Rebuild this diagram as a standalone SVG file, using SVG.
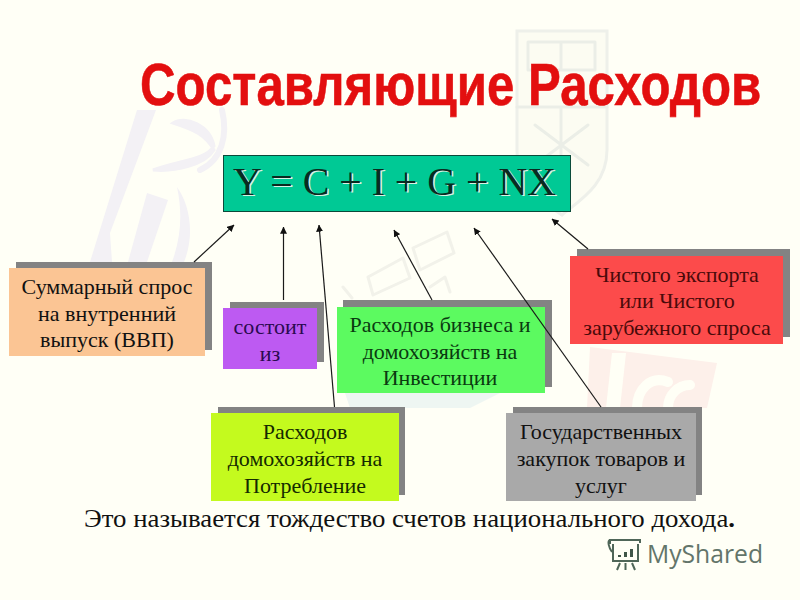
<svg xmlns="http://www.w3.org/2000/svg" width="800" height="600" viewBox="0 0 800 600">
<style>
.shadow{fill:#838383}
.t{font-family:"Liberation Serif","Times New Roman",serif;font-size:22px;fill:#111;text-anchor:middle}
.wm{fill:none;stroke-linejoin:round;stroke-linecap:round}
.conn{stroke:#1a1a1a;stroke-width:1.2;fill:none;marker-end:url(#arrow)}
.eq{font-family:"Liberation Serif",serif;font-size:41px;text-anchor:middle}
</style>
<defs>
<marker id="arrow" viewBox="0 0 10 10" refX="9.5" refY="5" markerWidth="7" markerHeight="7" markerUnits="userSpaceOnUse" orient="auto"><path d="M0 0L10 5L0 10Z" fill="#111"/></marker>
</defs>
<rect width="800" height="600" fill="#fffff6"/>
<g id="watermark">
<path d="M137 110H156L110 233L112 262H90Z" fill="#f3f1f5"/>
<path d="M147 193L168 200L147 262H128Z" fill="#f3f1f5"/>
<path d="M173 123C195 130 205 135 214 150C205 165 175 172 153 170C180 160 205 160 214 146C210 125 185 115 173 123Z" fill="#f3f1f5" stroke="#f3f1f5" stroke-width="3"/>
<path d="M222 110C228 135 222 160 200 170" class="wm" stroke="#f3f1f5" stroke-width="6"/>
<path d="M177 187C190 205 195 235 184 262H172C182 235 182 210 177 187Z" fill="#f3f1f5"/>
<path d="M517 31H607V150C607 185 580 200 562 215C540 200 517 185 517 150Z" fill="#fcfcf2" stroke="#eef0ea" stroke-width="3"/>
<path class="wm" d="M528 42H595V70H528ZM561 42V70M517 107H607M561 107V185M535 125L588 165M588 125L535 165" stroke="#ebeee7" stroke-width="3"/>
<path class="wm" d="M368 277L403 258L410 278L373 295ZM413 248L447 232L454 253L420 270ZM430 287L445 277L450 292M343 287L352 298" stroke="#f2f2ea" stroke-width="3"/>
<path d="M590 347L717 363L707 408H587Z" fill="#fdf0ea"/>
<path d="M612 353H626L620 408H606Z" fill="#fffff6"/>
<path class="wm" d="M668 382C650 375 637 390 637 408M690 385C678 385 668 395 668 408" stroke="#fffff6" stroke-width="10"/>
<path d="M345 393H500L470 408H350Z" fill="#eef6f2"/>
</g>
<g id="title"><text transform="translate(140 105) scale(.82 1)" style="font-family:'Liberation Sans',Arial,sans-serif;font-weight:700;font-size:60px;fill:#e30f0f;stroke:#e30f0f;stroke-width:.6">Составляющие Расходов</text></g>
<g id="node-equation">
<rect x="223.500" y="155.500" width="347" height="56" fill="#00c995" stroke="#0b4a3a" stroke-width="1"/>
<text class="eq" x="396" y="196" textLength="323" lengthAdjust="spacingAndGlyphs" fill="#d8f2e4">Y = C + I + G + NX</text>
<text class="eq" x="394.500" y="194.500" textLength="323" lengthAdjust="spacingAndGlyphs" fill="#0a2a20">Y = C + I + G + NX</text>
</g>
<g id="node-gdp">
<rect class="shadow" x="16" y="262" width="196" height="88"/>
<rect x="9" y="268" width="196" height="88" fill="#fbc594"/>
<text class="t"><tspan x="107" y="294">Суммарный спрос</tspan><tspan x="107" y="320.500">на внутренний</tspan><tspan x="107" y="347">выпуск (ВВП)</tspan></text>
</g>
<g id="node-consists">
<rect class="shadow" x="230" y="302" width="94" height="60"/>
<rect x="223" y="308" width="94" height="61" fill="#bd5af2"/>
<text class="t" style="fill:#2a0a50"><tspan x="270" y="334">состоит</tspan><tspan x="270" y="361">из</tspan></text>
</g>
<g id="node-investment">
<rect class="shadow" x="343" y="300" width="209" height="87"/>
<rect x="337" y="307" width="208" height="86" fill="#5cfa60"/>
<text class="t" style="fill:#0a3a10"><tspan x="440" y="332">Расходов бизнеса и</tspan><tspan x="440" y="359">домохозяйств на</tspan><tspan x="440" y="385">Инвестиции</tspan></text>
</g>
<g id="node-consumption">
<rect class="shadow" x="218" y="407" width="187" height="88"/>
<rect x="211" y="413" width="188" height="88" fill="#c4fa1e"/>
<text class="t" style="fill:#142a00"><tspan x="305" y="439">Расходов</tspan><tspan x="305" y="466">домохозяйств на</tspan><tspan x="305" y="493">Потребление</tspan></text>
</g>
<g id="node-government">
<rect class="shadow" x="513" y="407" width="189" height="88"/>
<rect x="506" y="413" width="190" height="88" fill="#a9a9a9"/>
<text class="t"><tspan x="601" y="439">Государственных</tspan><tspan x="601" y="466">закупок товаров и</tspan><tspan x="601" y="493">услуг</tspan></text>
</g>
<g id="node-export">
<rect class="shadow" x="577" y="249" width="213" height="88"/>
<rect x="570" y="256" width="213" height="88" fill="#fc4b4b"/>
<text class="t" style="fill:#4a0a0a"><tspan x="677" y="282">Чистого экспорта</tspan><tspan x="677" y="308">или Чистого</tspan><tspan x="677" y="335">зарубежного спроса</tspan></text>
</g>
<g id="connectors">
<line class="conn" x1="194" y1="262" x2="234" y2="225"/>
<line class="conn" x1="283.500" y1="300" x2="283.500" y2="227"/>
<line class="conn" x1="334.500" y1="407" x2="319" y2="225"/>
<line class="conn" x1="432" y1="300" x2="394" y2="230"/>
<line class="conn" x1="601" y1="407" x2="474" y2="228"/>
<line class="conn" x1="588" y1="249" x2="552" y2="219"/>
</g>
<g id="caption"><text x="84" y="527" textLength="651" lengthAdjust="spacingAndGlyphs" style="font-family:'Liberation Serif',serif;font-size:25px;fill:#111">Это называется тождество счетов национального дохода<tspan font-weight="700">.</tspan></text></g>
<g id="logo">
<path d="M610 544V540H640V543M613 544V561H638V544M610 540C607 541 609 548 612 552M620 563L617 570M625.500 563V570M632 563L635 570" fill="none" stroke="#4f6658" stroke-width="2"/>
<path d="M618 555h3v2h-3zM624 552h3v5h-3zM630 549h3v8h-3z" fill="#3f5648"/>
<text x="647" y="563" textLength="116" lengthAdjust="spacingAndGlyphs" style="font-family:'Open Sans','Noto Sans',sans-serif;font-size:26px;fill:#63756a">MyShared</text>
</g>
</svg>
